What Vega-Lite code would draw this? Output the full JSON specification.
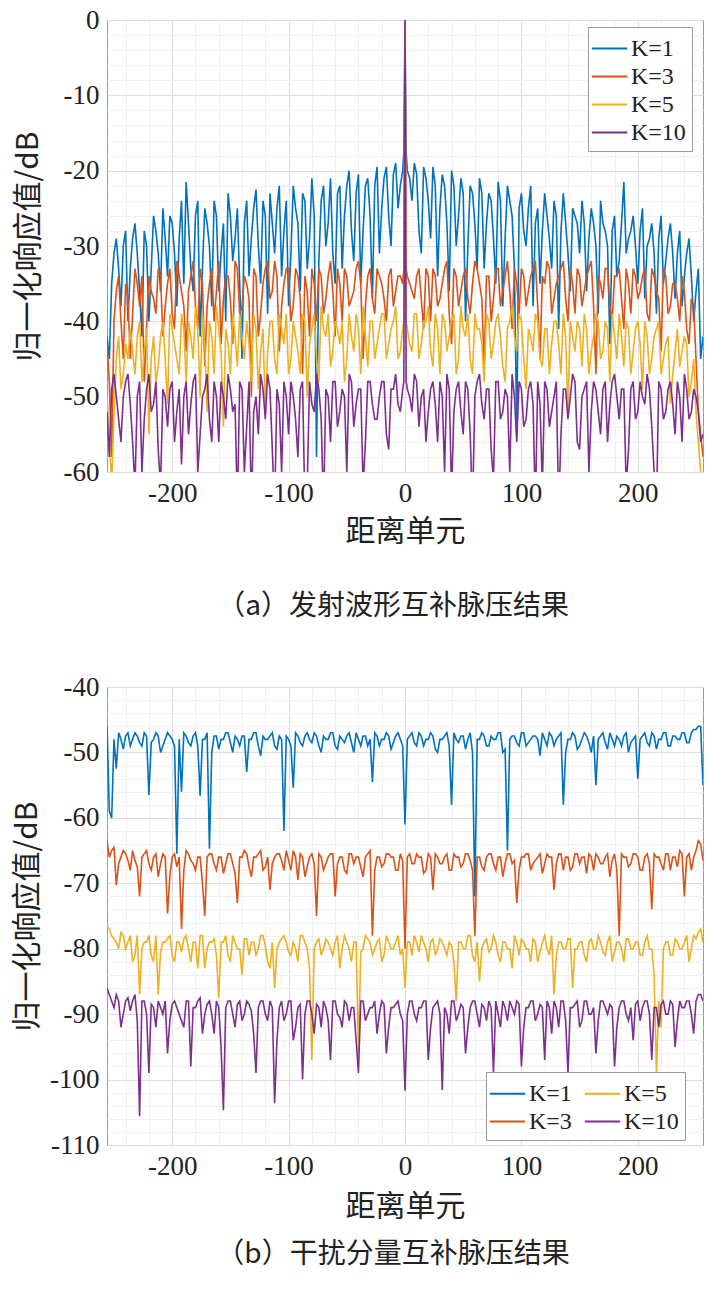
{
  "$schema": "https://vega.github.io/schema/vega-lite/v6.json",
  "background": "white",
  "padding": {"left": 12, "top": 5, "right": 5, "bottom": 5},
  "spacing": 50,
  "config": {
    "view": {"stroke": "#9a9a9a", "strokeWidth": 1},
    "style": {"guide-label": {"font": "Liberation Serif"}},
    "axis": {
      "labelFont": "Liberation Serif",
      "labelFontSize": 27,
      "labelColor": "#222222",
      "titleFont": "Noto Sans CJK SC",
      "titleFontSize": 30,
      "titleFontWeight": "normal",
      "titleColor": "#222222",
      "ticks": false,
      "domain": false,
      "grid": true,
      "labelOverlap": false,
      "labelPadding": 8
    },
    "legend": {
      "labelFont": "Liberation Serif",
      "labelFontSize": 24,
      "labelColor": "#222222",
      "symbolType": "M-1.25,0H1.25",
      "symbolStrokeWidth": 2,
      "symbolSize": 800,
      "fillColor": "white",
      "strokeColor": "#9a9a9a",
      "padding": 6,
      "labelOffset": 6,
      "rowPadding": 0,
      "title": null
    }
  },
  "resolve": {"scale": {"color": "independent"}},
  "datasets": {
    "pa": [
      {"x":-256,"k1":-42,"k3":-43,"k5":-50,"k10":-52},
      {"x":-254,"k1":-45,"k3":-48,"k5":-55,"k10":-58},
      {"x":-252,"k1":-35,"k3":-58,"k5":-62,"k10":-49},
      {"x":-250,"k1":-31,"k3":-40,"k5":-52,"k10":-47},
      {"x":-248,"k1":-29,"k3":-36,"k5":-45,"k10":-50},
      {"x":-246,"k1":-33,"k3":-34,"k5":-42,"k10":-53},
      {"x":-244,"k1":-38,"k3":-40,"k5":-49,"k10":-56},
      {"x":-242,"k1":-30,"k3":-45,"k5":-47,"k10":-50},
      {"x":-240,"k1":-28,"k3":-35,"k5":-43,"k10":-48},
      {"x":-238,"k1":-40,"k3":-37,"k5":-45,"k10":-47},
      {"x":-236,"k1":-33,"k3":-45,"k5":-41,"k10":-51},
      {"x":-234,"k1":-29,"k3":-39,"k5":-44,"k10":-56},
      {"x":-232,"k1":-27,"k3":-33,"k5":-47,"k10":-62},
      {"x":-230,"k1":-31,"k3":-35,"k5":-42,"k10":-50},
      {"x":-228,"k1":-36,"k3":-38,"k5":-40,"k10":-48},
      {"x":-226,"k1":-42,"k3":-34,"k5":-48,"k10":-60},
      {"x":-224,"k1":-28,"k3":-48,"k5":-44,"k10":-53},
      {"x":-222,"k1":-30,"k3":-41,"k5":-41,"k10":-49},
      {"x":-220,"k1":-40,"k3":-34,"k5":-55,"k10":-47},
      {"x":-218,"k1":-33,"k3":-36,"k5":-45,"k10":-52},
      {"x":-216,"k1":-26,"k3":-37,"k5":-42,"k10":-51},
      {"x":-214,"k1":-28,"k3":-39,"k5":-48,"k10":-48},
      {"x":-212,"k1":-31,"k3":-33,"k5":-46,"k10":-57},
      {"x":-210,"k1":-36,"k3":-34,"k5":-42,"k10":-62},
      {"x":-208,"k1":-25,"k3":-42,"k5":-40,"k10":-49},
      {"x":-206,"k1":-29,"k3":-38,"k5":-45,"k10":-50},
      {"x":-204,"k1":-34,"k3":-35,"k5":-51,"k10":-54},
      {"x":-202,"k1":-26,"k3":-33,"k5":-39,"k10":-49},
      {"x":-200,"k1":-27,"k3":-39,"k5":-41,"k10":-48},
      {"x":-198,"k1":-31,"k3":-41,"k5":-43,"k10":-56},
      {"x":-196,"k1":-38,"k3":-32,"k5":-45,"k10":-52},
      {"x":-194,"k1":-29,"k3":-34,"k5":-47,"k10":-49},
      {"x":-192,"k1":-24,"k3":-36,"k5":-39,"k10":-59},
      {"x":-190,"k1":-35,"k3":-38,"k5":-41,"k10":-50},
      {"x":-188,"k1":-21.5,"k3":-44,"k5":-48,"k10":-48},
      {"x":-186,"k1":-27,"k3":-36,"k5":-40,"k10":-55},
      {"x":-184,"k1":-33,"k3":-34,"k5":-42,"k10":-51},
      {"x":-182,"k1":-36,"k3":-32,"k5":-45,"k10":-48},
      {"x":-180,"k1":-26,"k3":-38,"k5":-38,"k10":-47},
      {"x":-178,"k1":-24,"k3":-41,"k5":-41,"k10":-60},
      {"x":-176,"k1":-42,"k3":-33,"k5":-50,"k10":-55},
      {"x":-174,"k1":-33,"k3":-35,"k5":-39,"k10":-50},
      {"x":-172,"k1":-25,"k3":-46,"k5":-43,"k10":-49},
      {"x":-170,"k1":-27,"k3":-38,"k5":-52,"k10":-47},
      {"x":-168,"k1":-30,"k3":-35,"k5":-40,"k10":-53},
      {"x":-166,"k1":-38,"k3":-33,"k5":-42,"k10":-56},
      {"x":-164,"k1":-24,"k3":-40,"k5":-47,"k10":-48},
      {"x":-162,"k1":-26,"k3":-36,"k5":-38,"k10":-50},
      {"x":-160,"k1":-36,"k3":-32,"k5":-41,"k10":-56},
      {"x":-158,"k1":-31,"k3":-43,"k5":-44,"k10":-48},
      {"x":-156,"k1":-27,"k3":-37,"k5":-54,"k10":-50},
      {"x":-154,"k1":-40,"k3":-34,"k5":-41,"k10":-53},
      {"x":-152,"k1":-23,"k3":-34,"k5":-43,"k10":-47},
      {"x":-150,"k1":-26,"k3":-37,"k5":-47,"k10":-49},
      {"x":-148,"k1":-32,"k3":-43,"k5":-39,"k10":-52},
      {"x":-146,"k1":-29,"k3":-32,"k5":-42,"k10":-51},
      {"x":-144,"k1":-25,"k3":-33,"k5":-46,"k10":-65},
      {"x":-142,"k1":-35,"k3":-39,"k5":-39,"k10":-48},
      {"x":-140,"k1":-45,"k3":-38,"k5":-42,"k10":-49},
      {"x":-138,"k1":-27,"k3":-34,"k5":-45,"k10":-60},
      {"x":-136,"k1":-24,"k3":-35,"k5":-40,"k10":-54},
      {"x":-134,"k1":-34,"k3":-37,"k5":-43,"k10":-48},
      {"x":-132,"k1":-29,"k3":-50,"k5":-48,"k10":-65},
      {"x":-130,"k1":-25,"k3":-33,"k5":-39,"k10":-52},
      {"x":-128,"k1":-22.5,"k3":-34,"k5":-41,"k10":-50},
      {"x":-126,"k1":-30,"k3":-42,"k5":-49,"k10":-55},
      {"x":-124,"k1":-35,"k3":-39,"k5":-44,"k10":-47},
      {"x":-122,"k1":-24,"k3":-35,"k5":-41,"k10":-49},
      {"x":-120,"k1":-26,"k3":-33,"k5":-52,"k10":-53},
      {"x":-118,"k1":-39,"k3":-32,"k5":-44,"k10":-47},
      {"x":-116,"k1":-23,"k3":-37,"k5":-40,"k10":-49},
      {"x":-114,"k1":-27,"k3":-36,"k5":-40,"k10":-57},
      {"x":-112,"k1":-31,"k3":-32,"k5":-45,"k10":-65},
      {"x":-110,"k1":-25,"k3":-34,"k5":-47,"k10":-49},
      {"x":-108,"k1":-22,"k3":-44,"k5":-39,"k10":-51},
      {"x":-106,"k1":-34,"k3":-38,"k5":-41,"k10":-60},
      {"x":-104,"k1":-28,"k3":-35,"k5":-43,"k10":-48},
      {"x":-102,"k1":-24,"k3":-33,"k5":-39,"k10":-50},
      {"x":-100,"k1":-38,"k3":-33,"k5":-47,"k10":-55},
      {"x":-98,"k1":-31,"k3":-40,"k5":-45,"k10":-48},
      {"x":-96,"k1":-22,"k3":-38,"k5":-40,"k10":-50},
      {"x":-94,"k1":-25,"k3":-33,"k5":-42,"k10":-53},
      {"x":-92,"k1":-27,"k3":-34,"k5":-44,"k10":-58},
      {"x":-90,"k1":-36,"k3":-37,"k5":-47,"k10":-49},
      {"x":-88,"k1":-23,"k3":-47,"k5":-39,"k10":-48},
      {"x":-86,"k1":-24,"k3":-34,"k5":-40,"k10":-65},
      {"x":-84,"k1":-33,"k3":-36,"k5":-50,"k10":-62},
      {"x":-82,"k1":-29,"k3":-42,"k5":-43,"k10":-48},
      {"x":-80,"k1":-21,"k3":-33,"k5":-41,"k10":-51},
      {"x":-78,"k1":-26,"k3":-35,"k5":-39,"k10":-52},
      {"x":-76,"k1":-58,"k3":-40,"k5":-45,"k10":-47},
      {"x":-74,"k1":-32,"k3":-33,"k5":-48,"k10":-49},
      {"x":-72,"k1":-24,"k3":-34,"k5":-38,"k10":-53},
      {"x":-70,"k1":-22,"k3":-39,"k5":-41,"k10":-65},
      {"x":-68,"k1":-30,"k3":-37,"k5":-42,"k10":-49},
      {"x":-66,"k1":-27,"k3":-34,"k5":-39,"k10":-50},
      {"x":-64,"k1":-21,"k3":-32,"k5":-46,"k10":-56},
      {"x":-62,"k1":-31,"k3":-36,"k5":-44,"k10":-48},
      {"x":-60,"k1":-35,"k3":-42,"k5":-40,"k10":-48},
      {"x":-58,"k1":-23,"k3":-33,"k5":-41,"k10":-54},
      {"x":-56,"k1":-22,"k3":-35,"k5":-43,"k10":-52},
      {"x":-54,"k1":-33,"k3":-40,"k5":-40,"k10":-49},
      {"x":-52,"k1":-26,"k3":-33,"k5":-48,"k10":-50},
      {"x":-50,"k1":-22,"k3":-34,"k5":-45,"k10":-60},
      {"x":-48,"k1":-20,"k3":-38,"k5":-39,"k10":-47},
      {"x":-46,"k1":-28,"k3":-37,"k5":-42,"k10":-48},
      {"x":-44,"k1":-32,"k3":-36,"k5":-44,"k10":-54},
      {"x":-42,"k1":-23,"k3":-33,"k5":-39,"k10":-51},
      {"x":-40,"k1":-20.5,"k3":-32,"k5":-41,"k10":-49},
      {"x":-38,"k1":-35,"k3":-35,"k5":-47,"k10":-49},
      {"x":-36,"k1":-28,"k3":-45,"k5":-38,"k10":-62},
      {"x":-34,"k1":-22,"k3":-38,"k5":-42,"k10":-56},
      {"x":-32,"k1":-21,"k3":-34,"k5":-46,"k10":-48},
      {"x":-30,"k1":-26,"k3":-33,"k5":-40,"k10":-48},
      {"x":-28,"k1":-37,"k3":-37,"k5":-40,"k10":-51},
      {"x":-26,"k1":-22,"k3":-39,"k5":-45,"k10":-53},
      {"x":-24,"k1":-19.5,"k3":-33,"k5":-43,"k10":-53},
      {"x":-22,"k1":-31,"k3":-34,"k5":-41,"k10":-50},
      {"x":-20,"k1":-25,"k3":-35,"k5":-39,"k10":-48},
      {"x":-18,"k1":-21,"k3":-37,"k5":-39,"k10":-48},
      {"x":-16,"k1":-19.5,"k3":-40,"k5":-45,"k10":-55},
      {"x":-14,"k1":-26,"k3":-34,"k5":-43,"k10":-57},
      {"x":-12,"k1":-30,"k3":-33,"k5":-41,"k10":-49},
      {"x":-10,"k1":-20.5,"k3":-38,"k5":-40,"k10":-49},
      {"x":-8,"k1":-19,"k3":-36,"k5":-38,"k10":-47},
      {"x":-6,"k1":-25,"k3":-34,"k5":-45,"k10":-51},
      {"x":-4,"k1":-22,"k3":-34,"k5":-44,"k10":-52},
      {"x":-2,"k1":-20,"k3":-35,"k5":-41,"k10":-49},
      {"x":-1,"k1":-17.5,"k3":-33,"k5":-40,"k10":-48},
      {"x":0,"k1":0,"k3":0,"k5":0,"k10":0},
      {"x":1,"k1":-17.5,"k3":-33,"k5":-40,"k10":-48},
      {"x":2,"k1":-20,"k3":-34,"k5":-41,"k10":-49},
      {"x":4,"k1":-21,"k3":-35,"k5":-43,"k10":-50},
      {"x":6,"k1":-24,"k3":-36,"k5":-44,"k10":-52},
      {"x":8,"k1":-19,"k3":-37,"k5":-39,"k10":-47},
      {"x":10,"k1":-20.5,"k3":-34,"k5":-39,"k10":-48},
      {"x":12,"k1":-28,"k3":-33,"k5":-45,"k10":-54},
      {"x":14,"k1":-31,"k3":-37,"k5":-43,"k10":-50},
      {"x":16,"k1":-19.5,"k3":-41,"k5":-40,"k10":-49},
      {"x":18,"k1":-21,"k3":-33,"k5":-40,"k10":-56},
      {"x":20,"k1":-24,"k3":-34,"k5":-38,"k10":-52},
      {"x":22,"k1":-29,"k3":-40,"k5":-44,"k10":-49},
      {"x":24,"k1":-19.5,"k3":-33,"k5":-46,"k10":-48},
      {"x":26,"k1":-22,"k3":-34,"k5":-39,"k10":-51},
      {"x":28,"k1":-34,"k3":-38,"k5":-41,"k10":-56},
      {"x":30,"k1":-25,"k3":-37,"k5":-47,"k10":-48},
      {"x":32,"k1":-20.5,"k3":-35,"k5":-39,"k10":-50},
      {"x":34,"k1":-22,"k3":-33,"k5":-40,"k10":-60},
      {"x":36,"k1":-27,"k3":-32,"k5":-44,"k10":-47},
      {"x":38,"k1":-36,"k3":-39,"k5":-42,"k10":-49},
      {"x":40,"k1":-20,"k3":-43,"k5":-40,"k10":-63},
      {"x":42,"k1":-22,"k3":-33,"k5":-39,"k10":-52},
      {"x":44,"k1":-30,"k3":-34,"k5":-47,"k10":-49},
      {"x":46,"k1":-26,"k3":-38,"k5":-45,"k10":-48},
      {"x":48,"k1":-21,"k3":-36,"k5":-38,"k10":-52},
      {"x":50,"k1":-23,"k3":-34,"k5":-41,"k10":-55},
      {"x":52,"k1":-40,"k3":-33,"k5":-42,"k10":-48},
      {"x":54,"k1":-30,"k3":-37,"k5":-39,"k10":-49},
      {"x":56,"k1":-22,"k3":-39,"k5":-45,"k10":-55},
      {"x":58,"k1":-23,"k3":-35,"k5":-47,"k10":-65},
      {"x":60,"k1":-27,"k3":-32,"k5":-39,"k10":-50},
      {"x":62,"k1":-33,"k3":-33,"k5":-41,"k10":-48},
      {"x":64,"k1":-21,"k3":-35,"k5":-41,"k10":-47},
      {"x":66,"k1":-23,"k3":-37,"k5":-43,"k10":-51},
      {"x":68,"k1":-33,"k3":-46,"k5":-48,"k10":-53},
      {"x":70,"k1":-27,"k3":-34,"k5":-39,"k10":-49},
      {"x":72,"k1":-23,"k3":-34,"k5":-40,"k10":-49},
      {"x":74,"k1":-24,"k3":-40,"k5":-45,"k10":-57},
      {"x":76,"k1":-29,"k3":-37,"k5":-43,"k10":-61},
      {"x":78,"k1":-35,"k3":-33,"k5":-40,"k10":-48},
      {"x":80,"k1":-21.5,"k3":-33,"k5":-39,"k10":-48},
      {"x":82,"k1":-24,"k3":-38,"k5":-42,"k10":-53},
      {"x":84,"k1":-38,"k3":-36,"k5":-46,"k10":-52},
      {"x":86,"k1":-29,"k3":-34,"k5":-48,"k10":-49},
      {"x":88,"k1":-22,"k3":-32,"k5":-41,"k10":-50},
      {"x":90,"k1":-24,"k3":-36,"k5":-40,"k10":-60},
      {"x":92,"k1":-26,"k3":-41,"k5":-38,"k10":-47},
      {"x":94,"k1":-33,"k3":-33,"k5":-42,"k10":-50},
      {"x":96,"k1":-55,"k3":-35,"k5":-44,"k10":-56},
      {"x":98,"k1":-25,"k3":-39,"k5":-39,"k10":-48},
      {"x":100,"k1":-23,"k3":-33,"k5":-40,"k10":-49},
      {"x":102,"k1":-28,"k3":-34,"k5":-45,"k10":-54},
      {"x":104,"k1":-30,"k3":-38,"k5":-49,"k10":-53},
      {"x":106,"k1":-25,"k3":-36,"k5":-41,"k10":-49},
      {"x":108,"k1":-22,"k3":-34,"k5":-42,"k10":-48},
      {"x":110,"k1":-38,"k3":-33,"k5":-44,"k10":-51},
      {"x":112,"k1":-27,"k3":-32,"k5":-39,"k10":-65},
      {"x":114,"k1":-25,"k3":-38,"k5":-40,"k10":-48},
      {"x":116,"k1":-35,"k3":-45,"k5":-45,"k10":-51},
      {"x":118,"k1":-28,"k3":-34,"k5":-46,"k10":-62},
      {"x":120,"k1":-23,"k3":-35,"k5":-41,"k10":-48},
      {"x":122,"k1":-26,"k3":-32,"k5":-41,"k10":-49},
      {"x":124,"k1":-29,"k3":-33,"k5":-47,"k10":-54},
      {"x":126,"k1":-33,"k3":-39,"k5":-43,"k10":-52},
      {"x":128,"k1":-24,"k3":-37,"k5":-40,"k10":-50},
      {"x":130,"k1":-26,"k3":-35,"k5":-40,"k10":-48},
      {"x":132,"k1":-41,"k3":-34,"k5":-43,"k10":-65},
      {"x":134,"k1":-28,"k3":-33,"k5":-47,"k10":-55},
      {"x":136,"k1":-23,"k3":-32,"k5":-39,"k10":-49},
      {"x":138,"k1":-27,"k3":-37,"k5":-42,"k10":-49},
      {"x":140,"k1":-31,"k3":-40,"k5":-52,"k10":-53},
      {"x":142,"k1":-36,"k3":-33,"k5":-40,"k10":-50},
      {"x":144,"k1":-25,"k3":-35,"k5":-42,"k10":-47},
      {"x":146,"k1":-26,"k3":-39,"k5":-44,"k10":-48},
      {"x":148,"k1":-27,"k3":-33,"k5":-40,"k10":-56},
      {"x":150,"k1":-31,"k3":-34,"k5":-41,"k10":-57},
      {"x":152,"k1":-24,"k3":-38,"k5":-46,"k10":-50},
      {"x":154,"k1":-27,"k3":-36,"k5":-39,"k10":-49},
      {"x":156,"k1":-36,"k3":-34,"k5":-41,"k10":-48},
      {"x":158,"k1":-29,"k3":-33,"k5":-47,"k10":-60},
      {"x":160,"k1":-25,"k3":-32,"k5":-44,"k10":-52},
      {"x":162,"k1":-27,"k3":-38,"k5":-42,"k10":-48},
      {"x":164,"k1":-30,"k3":-47,"k5":-39,"k10":-49},
      {"x":166,"k1":-39,"k3":-34,"k5":-40,"k10":-52},
      {"x":168,"k1":-24,"k3":-35,"k5":-45,"k10":-55},
      {"x":170,"k1":-27,"k3":-37,"k5":-44,"k10":-49},
      {"x":172,"k1":-28,"k3":-33,"k5":-40,"k10":-48},
      {"x":174,"k1":-30,"k3":-33,"k5":-41,"k10":-56},
      {"x":176,"k1":-43,"k3":-38,"k5":-48,"k10":-51},
      {"x":178,"k1":-28,"k3":-40,"k5":-39,"k10":-48},
      {"x":180,"k1":-26,"k3":-34,"k5":-42,"k10":-47},
      {"x":182,"k1":-34,"k3":-34,"k5":-45,"k10":-50},
      {"x":184,"k1":-32,"k3":-33,"k5":-39,"k10":-53},
      {"x":186,"k1":-27,"k3":-37,"k5":-42,"k10":-49},
      {"x":188,"k1":-21.5,"k3":-41,"k5":-46,"k10":-49},
      {"x":190,"k1":-31,"k3":-33,"k5":-40,"k10":-62},
      {"x":192,"k1":-29,"k3":-35,"k5":-41,"k10":-57},
      {"x":194,"k1":-28,"k3":-39,"k5":-47,"k10":-49},
      {"x":196,"k1":-26,"k3":-33,"k5":-44,"k10":-48},
      {"x":198,"k1":-30,"k3":-34,"k5":-41,"k10":-53},
      {"x":200,"k1":-35,"k3":-37,"k5":-40,"k10":-52},
      {"x":202,"k1":-28,"k3":-36,"k5":-43,"k10":-48},
      {"x":204,"k1":-25,"k3":-34,"k5":-49,"k10":-50},
      {"x":206,"k1":-37,"k3":-33,"k5":-40,"k10":-51},
      {"x":208,"k1":-30,"k3":-39,"k5":-42,"k10":-47},
      {"x":210,"k1":-29,"k3":-40,"k5":-47,"k10":-49},
      {"x":212,"k1":-27,"k3":-33,"k5":-45,"k10":-54},
      {"x":214,"k1":-31,"k3":-34,"k5":-42,"k10":-60},
      {"x":216,"k1":-39,"k3":-36,"k5":-41,"k10":-65},
      {"x":218,"k1":-29,"k3":-37,"k5":-40,"k10":-48},
      {"x":220,"k1":-26,"k3":-44,"k5":-47,"k10":-49},
      {"x":222,"k1":-35,"k3":-33,"k5":-45,"k10":-53},
      {"x":224,"k1":-32,"k3":-34,"k5":-43,"k10":-52},
      {"x":226,"k1":-29,"k3":-39,"k5":-42,"k10":-49},
      {"x":228,"k1":-27,"k3":-38,"k5":-51,"k10":-48},
      {"x":230,"k1":-31,"k3":-35,"k5":-47,"k10":-51},
      {"x":232,"k1":-37,"k3":-35,"k5":-44,"k10":-55},
      {"x":234,"k1":-31,"k3":-37,"k5":-41,"k10":-48},
      {"x":236,"k1":-28,"k3":-40,"k5":-46,"k10":-50},
      {"x":238,"k1":-38,"k3":-34,"k5":-44,"k10":-56},
      {"x":240,"k1":-34,"k3":-36,"k5":-42,"k10":-47},
      {"x":242,"k1":-31,"k3":-41,"k5":-43,"k10":-49},
      {"x":244,"k1":-29,"k3":-43,"k5":-50,"k10":-53},
      {"x":246,"k1":-34,"k3":-37,"k5":-48,"k10":-52},
      {"x":248,"k1":-40,"k3":-38,"k5":-45,"k10":-49},
      {"x":250,"k1":-36,"k3":-45,"k5":-52,"k10":-50},
      {"x":252,"k1":-33,"k3":-52,"k5":-56,"k10":-52},
      {"x":254,"k1":-45,"k3":-55,"k5":-60,"k10":-56},
      {"x":256,"k1":-42,"k3":-58,"k5":-62,"k10":-55}
    ],
    "pb": [
      {"x":-256,"k1":-46,"k3":-63.5,"k5":-76.5,"k10":-86},
      {"x":-254,"k1":-59,"k3":-66,"k5":-77,"k10":-87},
      {"x":-252,"k1":-60,"k3":-65,"k5":-78,"k10":-88},
      {"x":-250,"k1":-48,"k3":-64.5,"k5":-78.5,"k10":-89},
      {"x":-248,"k1":-52.5,"k3":-70.3,"k5":-79,"k10":-87},
      {"x":-246,"k1":-47,"k3":-67,"k5":-80,"k10":-88},
      {"x":-244,"k1":-48,"k3":-66,"k5":-77.5,"k10":-92},
      {"x":-242,"k1":-49.5,"k3":-65,"k5":-78,"k10":-90},
      {"x":-240,"k1":-47.5,"k3":-65.5,"k5":-80,"k10":-88},
      {"x":-238,"k1":-47,"k3":-66.5,"k5":-79,"k10":-87.5},
      {"x":-236,"k1":-49,"k3":-68,"k5":-78,"k10":-89.5},
      {"x":-234,"k1":-48,"k3":-65,"k5":-82,"k10":-88},
      {"x":-232,"k1":-47,"k3":-66.5,"k5":-81,"k10":-87},
      {"x":-230,"k1":-47.5,"k3":-67.5,"k5":-78,"k10":-91},
      {"x":-228,"k1":-48.5,"k3":-72,"k5":-87,"k10":-105.6},
      {"x":-226,"k1":-49,"k3":-66,"k5":-80,"k10":-88},
      {"x":-224,"k1":-47,"k3":-65.5,"k5":-79,"k10":-88},
      {"x":-222,"k1":-47.5,"k3":-65,"k5":-79,"k10":-90},
      {"x":-220,"k1":-56.5,"k3":-67,"k5":-78,"k10":-99},
      {"x":-218,"k1":-48.5,"k3":-68,"k5":-81,"k10":-88.5},
      {"x":-216,"k1":-48,"k3":-66,"k5":-82,"k10":-89},
      {"x":-214,"k1":-47,"k3":-65.5,"k5":-78,"k10":-92},
      {"x":-212,"k1":-47.5,"k3":-69,"k5":-87,"k10":-88},
      {"x":-210,"k1":-50,"k3":-67,"k5":-80.5,"k10":-89},
      {"x":-208,"k1":-49,"k3":-65.5,"k5":-79,"k10":-90},
      {"x":-206,"k1":-48,"k3":-66,"k5":-79,"k10":-88},
      {"x":-204,"k1":-47,"k3":-74.6,"k5":-78.5,"k10":-96},
      {"x":-202,"k1":-47.5,"k3":-69,"k5":-78,"k10":-91},
      {"x":-200,"k1":-48,"k3":-66,"k5":-81,"k10":-88.5},
      {"x":-198,"k1":-49,"k3":-65.5,"k5":-82,"k10":-88},
      {"x":-196,"k1":-65.5,"k3":-67.5,"k5":-79,"k10":-89},
      {"x":-194,"k1":-48,"k3":-66,"k5":-79,"k10":-90},
      {"x":-192,"k1":-56,"k3":-77,"k5":-80.5,"k10":-91},
      {"x":-190,"k1":-47,"k3":-68,"k5":-78.5,"k10":-92},
      {"x":-188,"k1":-47.5,"k3":-65,"k5":-78,"k10":-88},
      {"x":-186,"k1":-48.5,"k3":-65.5,"k5":-80,"k10":-88},
      {"x":-184,"k1":-49,"k3":-66.5,"k5":-82,"k10":-98},
      {"x":-182,"k1":-47.5,"k3":-67,"k5":-79,"k10":-89},
      {"x":-180,"k1":-47,"k3":-68,"k5":-79,"k10":-89},
      {"x":-178,"k1":-49,"k3":-66,"k5":-83,"k10":-88},
      {"x":-176,"k1":-56.6,"k3":-66,"k5":-78,"k10":-87.5},
      {"x":-174,"k1":-48,"k3":-70,"k5":-78,"k10":-93},
      {"x":-172,"k1":-48,"k3":-75,"k5":-83,"k10":-90},
      {"x":-170,"k1":-47,"k3":-66,"k5":-80,"k10":-88.5},
      {"x":-168,"k1":-64.7,"k3":-65.5,"k5":-79,"k10":-88},
      {"x":-166,"k1":-50,"k3":-65.5,"k5":-79,"k10":-90},
      {"x":-164,"k1":-47.5,"k3":-67,"k5":-78.5,"k10":-93},
      {"x":-162,"k1":-47.5,"k3":-68,"k5":-81,"k10":-88},
      {"x":-160,"k1":-49.5,"k3":-66,"k5":-87.5,"k10":-89},
      {"x":-158,"k1":-48,"k3":-66,"k5":-79,"k10":-95},
      {"x":-156,"k1":-48,"k3":-68.5,"k5":-79,"k10":-104.7},
      {"x":-154,"k1":-47,"k3":-67,"k5":-78,"k10":-89},
      {"x":-152,"k1":-47,"k3":-65.5,"k5":-81,"k10":-88},
      {"x":-150,"k1":-48.5,"k3":-65.5,"k5":-82,"k10":-88},
      {"x":-148,"k1":-50,"k3":-67,"k5":-78,"k10":-90},
      {"x":-146,"k1":-47.5,"k3":-68.5,"k5":-79,"k10":-92},
      {"x":-144,"k1":-48,"k3":-73,"k5":-80,"k10":-88.5},
      {"x":-142,"k1":-49,"k3":-66,"k5":-80,"k10":-88},
      {"x":-140,"k1":-47.5,"k3":-66,"k5":-84,"k10":-91},
      {"x":-138,"k1":-47.5,"k3":-65,"k5":-78.5,"k10":-90},
      {"x":-136,"k1":-53,"k3":-65.5,"k5":-78.5,"k10":-88},
      {"x":-134,"k1":-48,"k3":-67.5,"k5":-81,"k10":-88.5},
      {"x":-132,"k1":-48,"k3":-69,"k5":-79,"k10":-89.5},
      {"x":-130,"k1":-47,"k3":-66,"k5":-79,"k10":-93},
      {"x":-128,"k1":-47,"k3":-66,"k5":-81,"k10":-99},
      {"x":-126,"k1":-49,"k3":-65.5,"k5":-80,"k10":-89},
      {"x":-124,"k1":-50.5,"k3":-65,"k5":-78,"k10":-88},
      {"x":-122,"k1":-47.5,"k3":-68,"k5":-78,"k10":-88},
      {"x":-120,"k1":-48,"k3":-67.5,"k5":-79.5,"k10":-90},
      {"x":-118,"k1":-48,"k3":-66,"k5":-82,"k10":-91},
      {"x":-116,"k1":-47.5,"k3":-71,"k5":-83,"k10":-88},
      {"x":-114,"k1":-47,"k3":-67,"k5":-79,"k10":-89},
      {"x":-112,"k1":-49,"k3":-66,"k5":-86,"k10":-103.6},
      {"x":-110,"k1":-49.5,"k3":-65.5,"k5":-80,"k10":-94},
      {"x":-108,"k1":-47.5,"k3":-65.5,"k5":-79,"k10":-89},
      {"x":-106,"k1":-48,"k3":-66.5,"k5":-78.5,"k10":-88},
      {"x":-104,"k1":-62,"k3":-68,"k5":-78,"k10":-91},
      {"x":-102,"k1":-47.5,"k3":-65,"k5":-79,"k10":-90},
      {"x":-100,"k1":-48,"k3":-66.5,"k5":-80.5,"k10":-88},
      {"x":-98,"k1":-49,"k3":-68,"k5":-81,"k10":-88},
      {"x":-96,"k1":-55.4,"k3":-65,"k5":-79,"k10":-94},
      {"x":-94,"k1":-47,"k3":-66,"k5":-80,"k10":-92},
      {"x":-92,"k1":-47.5,"k3":-69.5,"k5":-82,"k10":-89},
      {"x":-90,"k1":-48.5,"k3":-65.5,"k5":-78,"k10":-88.5},
      {"x":-88,"k1":-49,"k3":-66,"k5":-78,"k10":-100},
      {"x":-86,"k1":-47.5,"k3":-69,"k5":-79,"k10":-90},
      {"x":-84,"k1":-47,"k3":-67.5,"k5":-80,"k10":-88},
      {"x":-82,"k1":-48,"k3":-66,"k5":-83,"k10":-88},
      {"x":-80,"k1":-48.5,"k3":-65.5,"k5":-97,"k10":-90},
      {"x":-78,"k1":-47,"k3":-67,"k5":-80,"k10":-93},
      {"x":-76,"k1":-47.5,"k3":-75,"k5":-79,"k10":-88.5},
      {"x":-74,"k1":-49,"k3":-65.5,"k5":-78.5,"k10":-89},
      {"x":-72,"k1":-50,"k3":-66,"k5":-81,"k10":-92},
      {"x":-70,"k1":-47.5,"k3":-68,"k5":-80,"k10":-88},
      {"x":-68,"k1":-48,"k3":-67,"k5":-78.5,"k10":-89},
      {"x":-66,"k1":-48,"k3":-66,"k5":-79,"k10":-91},
      {"x":-64,"k1":-47,"k3":-65.5,"k5":-80,"k10":-97},
      {"x":-62,"k1":-47,"k3":-65.5,"k5":-81,"k10":-88},
      {"x":-60,"k1":-49,"k3":-72,"k5":-79,"k10":-88},
      {"x":-58,"k1":-49.5,"k3":-67,"k5":-78,"k10":-90},
      {"x":-56,"k1":-47.5,"k3":-66,"k5":-83,"k10":-90.5},
      {"x":-54,"k1":-48,"k3":-66,"k5":-80,"k10":-92},
      {"x":-52,"k1":-48.5,"k3":-68,"k5":-78,"k10":-88},
      {"x":-50,"k1":-47.5,"k3":-68.5,"k5":-79,"k10":-88.5},
      {"x":-48,"k1":-47,"k3":-65.5,"k5":-80,"k10":-91},
      {"x":-46,"k1":-48.5,"k3":-65.5,"k5":-82,"k10":-89},
      {"x":-44,"k1":-50,"k3":-67,"k5":-79,"k10":-89},
      {"x":-42,"k1":-47,"k3":-66,"k5":-79,"k10":-94},
      {"x":-40,"k1":-48,"k3":-66,"k5":-96,"k10":-99},
      {"x":-38,"k1":-49,"k3":-67.5,"k5":-80.5,"k10":-88},
      {"x":-36,"k1":-47.5,"k3":-69,"k5":-80,"k10":-88},
      {"x":-34,"k1":-47.5,"k3":-66,"k5":-78,"k10":-91},
      {"x":-32,"k1":-49,"k3":-65.5,"k5":-78.5,"k10":-90},
      {"x":-30,"k1":-48,"k3":-65,"k5":-79,"k10":-89},
      {"x":-28,"k1":-54.5,"k3":-78,"k5":-81,"k10":-89},
      {"x":-26,"k1":-47,"k3":-68,"k5":-80,"k10":-88},
      {"x":-24,"k1":-47.5,"k3":-66,"k5":-79,"k10":-93},
      {"x":-22,"k1":-49,"k3":-66,"k5":-78.5,"k10":-90},
      {"x":-20,"k1":-48,"k3":-67.5,"k5":-82,"k10":-88},
      {"x":-18,"k1":-48,"k3":-67,"k5":-81,"k10":-88.5},
      {"x":-16,"k1":-47,"k3":-65.5,"k5":-78,"k10":-96},
      {"x":-14,"k1":-47.5,"k3":-65.5,"k5":-79,"k10":-92},
      {"x":-12,"k1":-49.5,"k3":-66,"k5":-80,"k10":-89},
      {"x":-10,"k1":-48.5,"k3":-66,"k5":-80,"k10":-89},
      {"x":-8,"k1":-47.5,"k3":-68,"k5":-79,"k10":-88.5},
      {"x":-6,"k1":-47,"k3":-68,"k5":-78,"k10":-88},
      {"x":-4,"k1":-48,"k3":-65.5,"k5":-81,"k10":-90},
      {"x":-2,"k1":-49,"k3":-66.5,"k5":-80,"k10":-91},
      {"x":0,"k1":-61,"k3":-80,"k5":-86,"k10":-101.7},
      {"x":2,"k1":-48,"k3":-66,"k5":-79,"k10":-90},
      {"x":4,"k1":-47.5,"k3":-65.5,"k5":-79,"k10":-88},
      {"x":6,"k1":-47,"k3":-67,"k5":-81,"k10":-88},
      {"x":8,"k1":-48.5,"k3":-67,"k5":-78,"k10":-90},
      {"x":10,"k1":-49,"k3":-65.5,"k5":-79,"k10":-91},
      {"x":12,"k1":-47,"k3":-66,"k5":-80.5,"k10":-89},
      {"x":14,"k1":-47.5,"k3":-66,"k5":-78,"k10":-89},
      {"x":16,"k1":-49,"k3":-68.5,"k5":-79,"k10":-88},
      {"x":18,"k1":-48,"k3":-68,"k5":-80,"k10":-88},
      {"x":20,"k1":-48,"k3":-65.5,"k5":-82,"k10":-97},
      {"x":22,"k1":-47,"k3":-66,"k5":-79,"k10":-92},
      {"x":24,"k1":-47.5,"k3":-71,"k5":-78.5,"k10":-89},
      {"x":26,"k1":-49.5,"k3":-65.5,"k5":-81,"k10":-88.5},
      {"x":28,"k1":-50,"k3":-66,"k5":-80,"k10":-88},
      {"x":30,"k1":-48,"k3":-67,"k5":-78.5,"k10":-90},
      {"x":32,"k1":-48,"k3":-67,"k5":-79,"k10":-101.6},
      {"x":34,"k1":-47.5,"k3":-66,"k5":-80,"k10":-89},
      {"x":36,"k1":-47,"k3":-65.5,"k5":-81,"k10":-90},
      {"x":38,"k1":-49,"k3":-68,"k5":-79,"k10":-93},
      {"x":40,"k1":-58,"k3":-68,"k5":-79.5,"k10":-88},
      {"x":42,"k1":-47,"k3":-65.5,"k5":-82,"k10":-88},
      {"x":44,"k1":-48,"k3":-66,"k5":-88,"k10":-91},
      {"x":46,"k1":-48.5,"k3":-66,"k5":-79,"k10":-90},
      {"x":48,"k1":-47.5,"k3":-67.5,"k5":-79,"k10":-88.5},
      {"x":50,"k1":-47.5,"k3":-67,"k5":-80,"k10":-89},
      {"x":52,"k1":-49.5,"k3":-65.5,"k5":-80,"k10":-96},
      {"x":54,"k1":-48,"k3":-65.5,"k5":-78,"k10":-92},
      {"x":56,"k1":-47,"k3":-66.5,"k5":-78,"k10":-89},
      {"x":58,"k1":-50,"k3":-68,"k5":-81,"k10":-88},
      {"x":60,"k1":-72,"k3":-78,"k5":-82,"k10":-88},
      {"x":62,"k1":-48,"k3":-66,"k5":-79,"k10":-90},
      {"x":64,"k1":-48,"k3":-66,"k5":-85,"k10":-92},
      {"x":66,"k1":-47,"k3":-67.5,"k5":-80,"k10":-88.5},
      {"x":68,"k1":-47.5,"k3":-68,"k5":-79,"k10":-89},
      {"x":70,"k1":-49,"k3":-66,"k5":-78.5,"k10":-91},
      {"x":72,"k1":-49,"k3":-65.5,"k5":-80.5,"k10":-88},
      {"x":74,"k1":-47.5,"k3":-65.5,"k5":-80,"k10":-89},
      {"x":76,"k1":-48,"k3":-67,"k5":-78,"k10":-99},
      {"x":78,"k1":-48,"k3":-68,"k5":-79,"k10":-88},
      {"x":80,"k1":-47,"k3":-66,"k5":-81,"k10":-90},
      {"x":82,"k1":-47,"k3":-66,"k5":-82,"k10":-92},
      {"x":84,"k1":-50,"k3":-69,"k5":-79,"k10":-88},
      {"x":86,"k1":-49.5,"k3":-67,"k5":-79,"k10":-89},
      {"x":88,"k1":-65,"k3":-65.5,"k5":-80,"k10":-91},
      {"x":90,"k1":-48,"k3":-65.5,"k5":-80,"k10":-88},
      {"x":92,"k1":-47.5,"k3":-67,"k5":-83,"k10":-89},
      {"x":94,"k1":-47.5,"k3":-66.5,"k5":-78,"k10":-90},
      {"x":96,"k1":-48.5,"k3":-73,"k5":-79,"k10":-88},
      {"x":98,"k1":-49,"k3":-68,"k5":-81,"k10":-88.5},
      {"x":100,"k1":-47,"k3":-66,"k5":-78.5,"k10":-98},
      {"x":102,"k1":-47,"k3":-66,"k5":-79,"k10":-92},
      {"x":104,"k1":-49,"k3":-65.5,"k5":-80,"k10":-89},
      {"x":106,"k1":-48.5,"k3":-65.5,"k5":-80,"k10":-89},
      {"x":108,"k1":-48,"k3":-68,"k5":-82,"k10":-88},
      {"x":110,"k1":-47.5,"k3":-67,"k5":-78.5,"k10":-88},
      {"x":112,"k1":-47.5,"k3":-66.5,"k5":-79,"k10":-91},
      {"x":114,"k1":-48,"k3":-66,"k5":-82,"k10":-90},
      {"x":116,"k1":-50.5,"k3":-65.5,"k5":-80.5,"k10":-88.5},
      {"x":118,"k1":-47,"k3":-68.5,"k5":-79,"k10":-89},
      {"x":120,"k1":-48,"k3":-67,"k5":-78,"k10":-97},
      {"x":122,"k1":-49,"k3":-65.5,"k5":-80,"k10":-88},
      {"x":124,"k1":-47,"k3":-66,"k5":-81,"k10":-89},
      {"x":126,"k1":-47.5,"k3":-66,"k5":-78,"k10":-93},
      {"x":128,"k1":-49,"k3":-71,"k5":-87,"k10":-88},
      {"x":130,"k1":-48,"k3":-67,"k5":-81,"k10":-89},
      {"x":132,"k1":-47.5,"k3":-65.5,"k5":-79,"k10":-92},
      {"x":134,"k1":-47,"k3":-65.5,"k5":-79,"k10":-88},
      {"x":136,"k1":-58,"k3":-68,"k5":-80,"k10":-88},
      {"x":138,"k1":-50,"k3":-66,"k5":-80,"k10":-91},
      {"x":140,"k1":-48,"k3":-66,"k5":-78.5,"k10":-99},
      {"x":142,"k1":-48,"k3":-68,"k5":-78.5,"k10":-89},
      {"x":144,"k1":-47,"k3":-67.5,"k5":-86,"k10":-89},
      {"x":146,"k1":-47.5,"k3":-65.5,"k5":-80,"k10":-88.5},
      {"x":148,"k1":-49.5,"k3":-65.5,"k5":-80,"k10":-88},
      {"x":150,"k1":-49,"k3":-67,"k5":-79,"k10":-92},
      {"x":152,"k1":-48,"k3":-66,"k5":-79,"k10":-91},
      {"x":154,"k1":-47,"k3":-66,"k5":-81,"k10":-88},
      {"x":156,"k1":-47.5,"k3":-68.5,"k5":-82,"k10":-88},
      {"x":158,"k1":-48.5,"k3":-65.5,"k5":-79,"k10":-90},
      {"x":160,"k1":-50,"k3":-66,"k5":-78.5,"k10":-90},
      {"x":162,"k1":-47.5,"k3":-68,"k5":-80,"k10":-89},
      {"x":164,"k1":-55,"k3":-65.5,"k5":-80,"k10":-96},
      {"x":166,"k1":-48,"k3":-66,"k5":-78,"k10":-91},
      {"x":168,"k1":-47.5,"k3":-67,"k5":-79,"k10":-88},
      {"x":170,"k1":-47,"k3":-67,"k5":-80.5,"k10":-88},
      {"x":172,"k1":-48.5,"k3":-66,"k5":-81,"k10":-89},
      {"x":174,"k1":-49.5,"k3":-65.5,"k5":-79,"k10":-90},
      {"x":176,"k1":-47,"k3":-69,"k5":-78,"k10":-88.5},
      {"x":178,"k1":-48,"k3":-66.5,"k5":-82,"k10":-89},
      {"x":180,"k1":-49,"k3":-65.5,"k5":-80.5,"k10":-98},
      {"x":182,"k1":-47.5,"k3":-68,"k5":-79,"k10":-92},
      {"x":184,"k1":-48,"k3":-78,"k5":-79,"k10":-89},
      {"x":186,"k1":-49,"k3":-65.5,"k5":-80,"k10":-88},
      {"x":188,"k1":-47.5,"k3":-66,"k5":-82,"k10":-88},
      {"x":190,"k1":-47,"k3":-66,"k5":-78.5,"k10":-90},
      {"x":192,"k1":-50,"k3":-67.5,"k5":-78.5,"k10":-91},
      {"x":194,"k1":-48.5,"k3":-67,"k5":-80,"k10":-89},
      {"x":196,"k1":-48,"k3":-65.5,"k5":-80,"k10":-94},
      {"x":198,"k1":-47.5,"k3":-65.5,"k5":-79,"k10":-88.5},
      {"x":200,"k1":-54,"k3":-66,"k5":-79,"k10":-88},
      {"x":202,"k1":-48,"k3":-68,"k5":-81,"k10":-91},
      {"x":204,"k1":-47.5,"k3":-68,"k5":-81,"k10":-89},
      {"x":206,"k1":-47,"k3":-66,"k5":-79,"k10":-88},
      {"x":208,"k1":-48.5,"k3":-65.5,"k5":-78,"k10":-88},
      {"x":210,"k1":-49,"k3":-67,"k5":-80,"k10":-90},
      {"x":212,"k1":-47,"k3":-74,"k5":-80,"k10":-97},
      {"x":214,"k1":-47.5,"k3":-65.5,"k5":-84,"k10":-89},
      {"x":216,"k1":-49.5,"k3":-66,"k5":-99,"k10":-89},
      {"x":218,"k1":-48,"k3":-66,"k5":-88,"k10":-92},
      {"x":220,"k1":-48,"k3":-67,"k5":-92,"k10":-88.5},
      {"x":222,"k1":-47,"k3":-68,"k5":-80,"k10":-88},
      {"x":224,"k1":-47,"k3":-65.5,"k5":-79,"k10":-90},
      {"x":226,"k1":-49,"k3":-65.5,"k5":-79,"k10":-90},
      {"x":228,"k1":-49,"k3":-68,"k5":-81,"k10":-88},
      {"x":230,"k1":-47.5,"k3":-66,"k5":-81,"k10":-88.5},
      {"x":232,"k1":-47.5,"k3":-66,"k5":-78.5,"k10":-95},
      {"x":234,"k1":-48,"k3":-67.5,"k5":-79,"k10":-91},
      {"x":236,"k1":-48,"k3":-65,"k5":-80,"k10":-88},
      {"x":238,"k1":-47,"k3":-65.5,"k5":-80,"k10":-89},
      {"x":240,"k1":-47,"k3":-72,"k5":-79,"k10":-89},
      {"x":242,"k1":-48.5,"k3":-66,"k5":-78,"k10":-88},
      {"x":244,"k1":-48.5,"k3":-65.5,"k5":-82,"k10":-88},
      {"x":246,"k1":-47,"k3":-68,"k5":-80,"k10":-90},
      {"x":248,"k1":-46.5,"k3":-66,"k5":-78,"k10":-93},
      {"x":250,"k1":-46.5,"k3":-65,"k5":-78.5,"k10":-88},
      {"x":252,"k1":-46,"k3":-63.5,"k5":-77.5,"k10":-87},
      {"x":254,"k1":-46,"k3":-64,"k5":-77,"k10":-87},
      {"x":256,"k1":-55,"k3":-66.5,"k5":-79,"k10":-88}
    ]
  },
  "vconcat": [
    {
      "width": 596,
      "height": 452,
      "data": {"name": "pa"},
      "transform": [{"fold": ["k1", "k3", "k5", "k10"], "as": ["k", "v"]}],
      "title": {
        "text": "（a）发射波形互补脉压结果",
        "orient": "bottom",
        "anchor": "middle",
        "frame": "group",
        "font": "Noto Sans CJK SC",
        "fontSize": 28,
        "fontWeight": "normal",
        "color": "#222222",
        "offset": 47,
        "dx": -12
      },
      "mark": {"type": "line", "strokeWidth": 1.6, "clip": true},
      "encoding": {
        "x": {
          "field": "x",
          "type": "quantitative",
          "scale": {"domain": [-256, 256], "nice": false, "zero": false},
          "axis": {
            "title": "距离单元",
            "labelFont": "Liberation Serif",
            "titleFont": "Noto Sans CJK SC",
            "values": [-240, -220, -200, -180, -160, -140, -120, -100, -80, -60, -40, -20, 0, 20, 40, 60, 80, 100, 120, 140, 160, 180, 200, 220, 240],
            "labelExpr": "datum.value % 100 === 0 ? '' + datum.value : ''",
            "gridColor": {"condition": {"test": "datum.value % 100 === 0", "value": "#dcdcdc"}, "value": "#f0f0f0"},
            "titlePadding": 10
          }
        },
        "y": {
          "field": "v",
          "type": "quantitative",
          "scale": {"domain": [-60, 0], "nice": false},
          "axis": {
            "title": "归一化响应值/dB",
            "labelFont": "Liberation Serif",
            "titleFont": "Noto Sans CJK SC",
            "values": [-60, -58, -56, -54, -52, -50, -48, -46, -44, -42, -40, -38, -36, -34, -32, -30, -28, -26, -24, -22, -20, -18, -16, -14, -12, -10, -8, -6, -4, -2, 0],
            "labelExpr": "datum.value % 10 === 0 ? '' + datum.value : ''",
            "gridColor": {"condition": {"test": "datum.value % 10 === 0", "value": "#dcdcdc"}, "value": "#f0f0f0"},
            "titlePadding": 20
          }
        },
        "color": {
          "field": "k",
          "type": "nominal",
          "scale": {"domain": ["k1", "k3", "k5", "k10"], "range": ["#0072BD", "#D95319", "#EDB120", "#7E2F8E"]},
          "legend": {
            "orient": "none",
            "legendX": 481,
            "legendY": 7,
            "direction": "vertical",
            "labelExpr": "'K=' + slice(datum.label, 1)"
          }
        }
      }
    },
    {
      "width": 596,
      "height": 458,
      "data": {"name": "pb"},
      "transform": [{"fold": ["k1", "k3", "k5", "k10"], "as": ["k", "v"]}],
      "title": {
        "text": "（b）干扰分量互补脉压结果",
        "orient": "bottom",
        "anchor": "middle",
        "frame": "group",
        "font": "Noto Sans CJK SC",
        "fontSize": 28,
        "fontWeight": "normal",
        "color": "#222222",
        "offset": 20,
        "dx": -12
      },
      "mark": {"type": "line", "strokeWidth": 1.6, "clip": true},
      "encoding": {
        "x": {
          "field": "x",
          "type": "quantitative",
          "scale": {"domain": [-256, 256], "nice": false, "zero": false},
          "axis": {
            "title": "距离单元",
            "labelFont": "Liberation Serif",
            "titleFont": "Noto Sans CJK SC",
            "values": [-240, -220, -200, -180, -160, -140, -120, -100, -80, -60, -40, -20, 0, 20, 40, 60, 80, 100, 120, 140, 160, 180, 200, 220, 240],
            "labelExpr": "datum.value % 100 === 0 ? '' + datum.value : ''",
            "gridColor": {"condition": {"test": "datum.value % 100 === 0", "value": "#dcdcdc"}, "value": "#f0f0f0"},
            "titlePadding": 12
          }
        },
        "y": {
          "field": "v",
          "type": "quantitative",
          "scale": {"domain": [-110, -40], "nice": false, "zero": false},
          "axis": {
            "title": "归一化响应值/dB",
            "labelFont": "Liberation Serif",
            "titleFont": "Noto Sans CJK SC",
            "values": [-110, -108, -106, -104, -102, -100, -98, -96, -94, -92, -90, -88, -86, -84, -82, -80, -78, -76, -74, -72, -70, -68, -66, -64, -62, -60, -58, -56, -54, -52, -50, -48, -46, -44, -42, -40],
            "labelExpr": "datum.value % 10 === 0 ? '' + datum.value : ''",
            "gridColor": {"condition": {"test": "datum.value % 10 === 0", "value": "#dcdcdc"}, "value": "#f0f0f0"},
            "titlePadding": 7
          }
        },
        "color": {
          "field": "k",
          "type": "nominal",
          "scale": {"domain": ["k1", "k3", "k5", "k10"], "range": ["#0072BD", "#D95319", "#EDB120", "#7E2F8E"]},
          "legend": {
            "orient": "none",
            "legendX": 379,
            "legendY": 385,
            "columns": 2,
            "columnPadding": 8,
            "labelExpr": "'K=' + slice(datum.label, 1)"
          }
        }
      }
    }
  ]
}
